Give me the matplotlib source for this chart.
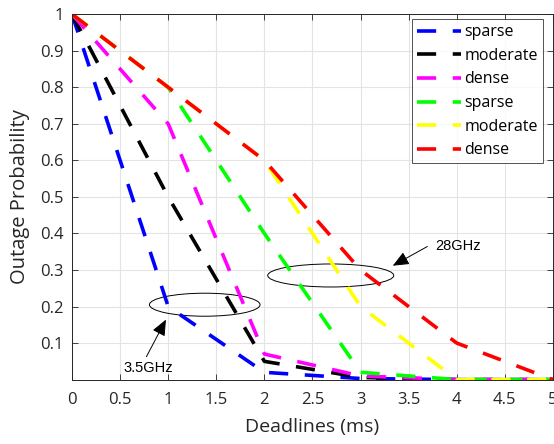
import matplotlib.pyplot as plt
from matplotlib.patches import Ellipse

# deadlines (ms)
x = [0, 1, 2, 3, 4, 5]

# 3.5GHz
sparse_35 = [1.0, 0.20, 0.02, 0.003, 0.0, 0.0]
moderate_35 = [1.0, 0.50, 0.05, 0.006, 0.0, 0.0]
dense_35 = [1.0, 0.70, 0.07, 0.010, 0.0, 0.0]
# 28GHz
sparse_28 = [1.0, 0.80, 0.40, 0.02, 0.0, 0.0]
moderate_28 = [1.0, 0.80, 0.60, 0.20, 0.0, 0.0]
dense_28 = [1.0, 0.80, 0.60, 0.30, 0.10, 0.0]

series = [sparse_35, moderate_35, dense_35, sparse_28, moderate_28, dense_28]
labels = ['sparse', 'moderate', 'dense', 'sparse', 'moderate', 'dense']
colors = ['#0000ff', '#000000', '#ff00ff', '#00ff00', '#ffff00', '#ff0000']

plt.rcParams['font.family'] = ['Open Sans', 'DejaVu Sans']

fig = plt.figure(figsize=(5.54, 4.44), dpi=100)
ax = fig.add_axes([0.130, 0.145, 0.868, 0.823])

for y, lab, c in zip(series, labels, colors):
    ax.plot(x, y, color=c, linewidth=2.6, linestyle=(0, (5.3, 4.6)),
            dash_capstyle='butt', label=lab)

ax.set_xlim(0, 5)
ax.set_ylim(0, 1)
ax.set_xticks([0, 0.5, 1, 1.5, 2, 2.5, 3, 3.5, 4, 4.5, 5])
ax.set_xticklabels(['0', '0.5', '1', '1.5', '2', '2.5', '3', '3.5', '4', '4.5', '5'])
ax.set_yticks([0.1, 0.2, 0.3, 0.4, 0.5, 0.6, 0.7, 0.8, 0.9, 1])
ax.set_yticklabels(['0.1', '0.2', '0.3', '0.4', '0.5', '0.6', '0.7', '0.8', '0.9', '1'])
ax.grid(True, color='#e3e3e3', linewidth=0.8)
ax.set_axisbelow(True)
ax.tick_params(direction='in', top=True, right=True, labelsize=12,
               colors='#262626', length=4, width=0.6)
ax.tick_params(axis='x', pad=9)
ax.tick_params(axis='y', pad=6)
for s in ax.spines.values():
    s.set_color('#262626')
    s.set_linewidth(0.7)
ax.set_xlabel('Deadlines (ms)', fontsize=14, color='#262626', labelpad=7)
ax.set_ylabel('Outage Probability', fontsize=14.5, color='#262626', labelpad=7)

leg = ax.legend(loc='upper right', bbox_to_anchor=(0.979, 0.986), borderaxespad=0,
                fontsize=11.5, handlelength=2.75, handletextpad=0.25,
                labelspacing=0.48, borderpad=0.3,
                fancybox=False, edgecolor='#262626')
leg.get_frame().set_linewidth(0.7)

# annotations
ax.add_patch(Ellipse((1.38, 0.205), 1.15, 0.063, fill=False, color='k', lw=0.7))
ax.add_patch(Ellipse((2.69, 0.285), 1.31, 0.063, fill=False, color='k', lw=0.7))
ax.annotate('', xy=(0.99, 0.171), xytext=(0.76, 0.056),
            arrowprops=dict(arrowstyle='-|>,head_length=0.7,head_width=0.3',
                            color='k', lw=0.7, mutation_scale=14))
ax.annotate('', xy=(3.31, 0.308), xytext=(3.72, 0.368),
            arrowprops=dict(arrowstyle='-|>,head_length=0.7,head_width=0.3',
                            color='k', lw=0.7, mutation_scale=14))
ax.text(0.79, 0.031, '3.5GHz', fontsize=10.5, family='Liberation Sans', ha='center', va='center')
ax.text(4.01, 0.365, '28GHz', fontsize=10.5, family='Liberation Sans', ha='center', va='center')

fig.savefig('out.png', dpi=100)
